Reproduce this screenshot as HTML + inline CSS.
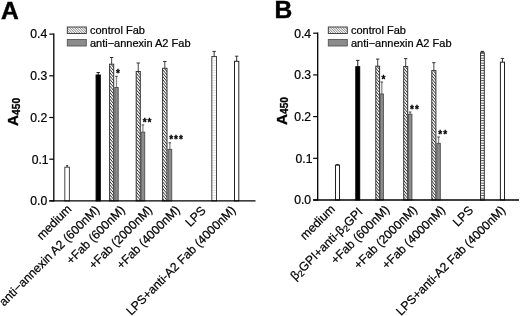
<!DOCTYPE html>
<html><head><meta charset="utf-8"><title>Figure</title>
<style>
html,body{margin:0;padding:0;background:#fff;}
svg{display:block;font-family:"Liberation Sans",sans-serif;fill:#000;}
.t{stroke:#000;stroke-width:0.22px;}
</style></head><body>
<svg width="520" height="316" viewBox="0 0 520 316">
<defs>
<pattern id="hl" x="0" y="0.2" width="6" height="2.5" patternUnits="userSpaceOnUse">
<rect width="6" height="2.5" fill="#fff"/><rect width="6" height="0.9" fill="#444"/>
</pattern>
<pattern id="hf" width="6" height="2.5" patternUnits="userSpaceOnUse">
<rect width="6" height="2.5" fill="#fff"/><rect width="6" height="0.8" fill="#ddd"/>
</pattern>
</defs>
<rect width="520" height="316" fill="#fff"/>
<text x="0.9" y="18.5" font-size="24.6" font-weight="bold" stroke="#000" stroke-width="0.45">A</text>
<text transform="translate(18.4,126.0) rotate(-90)" font-size="15.3" font-weight="bold" stroke="#000" stroke-width="0.3">A<tspan font-size="10.2" dy="1.4">450</tspan></text>
<line x1="49.3" y1="200.90" x2="53.8" y2="200.90" stroke="#000" stroke-width="1.2"/>
<text x="47.199999999999996" y="205.20" font-size="12.2" text-anchor="end" class="t">0.0</text>
<line x1="49.3" y1="159.20" x2="53.8" y2="159.20" stroke="#000" stroke-width="1.2"/>
<text x="48.599999999999994" y="163.50" font-size="12.2" text-anchor="end" class="t">0.1</text>
<line x1="49.3" y1="117.50" x2="53.8" y2="117.50" stroke="#000" stroke-width="1.2"/>
<text x="47.199999999999996" y="121.80" font-size="12.2" text-anchor="end" class="t">0.2</text>
<line x1="49.3" y1="75.80" x2="53.8" y2="75.80" stroke="#000" stroke-width="1.2"/>
<text x="47.199999999999996" y="80.10" font-size="12.2" text-anchor="end" class="t">0.3</text>
<line x1="49.3" y1="34.10" x2="53.8" y2="34.10" stroke="#000" stroke-width="1.2"/>
<text x="47.199999999999996" y="38.40" font-size="12.2" text-anchor="end" class="t">0.4</text>
<clipPath id="c1"><rect x="67.30" y="27.00" width="19.00" height="6.50"/></clipPath><rect x="67.30" y="27.00" width="19.00" height="6.50" fill="#fff"/><path d="M66.30 4.50L87.30 25.50M66.30 7.00L87.30 28.00M66.30 9.50L87.30 30.50M66.30 12.00L87.30 33.00M66.30 14.50L87.30 35.50M66.30 17.00L87.30 38.00M66.30 19.50L87.30 40.50M66.30 22.00L87.30 43.00M66.30 24.50L87.30 45.50M66.30 27.00L87.30 48.00M66.30 29.50L87.30 50.50M66.30 32.00L87.30 53.00M66.30 34.50L87.30 55.50" stroke="#444" stroke-width="0.7" fill="none" clip-path="url(#c1)"/><rect x="67.30" y="27.00" width="19.00" height="6.50" fill="none" stroke="#333" stroke-width="0.9"/>
<rect x="67.3" y="39.5" width="19" height="6.5" fill="#8c8c8c" stroke="#555" stroke-width="0.9"/>
<text x="89.9" y="33.7" font-size="11" class="t">control Fab</text>
<text x="89.9" y="46.7" font-size="11" class="t">anti−annexin A2 Fab</text>
<line x1="67.10" y1="167.2" x2="67.10" y2="165.7" stroke="#333" stroke-width="1"/>
<line x1="66.10" y1="165.7" x2="68.10" y2="165.7" stroke="#222" stroke-width="1"/>
<rect x="64.80" y="167.2" width="4.60" height="33.70" fill="#fff" stroke="#484848" stroke-width="1"/>
<line x1="98.20" y1="75" x2="98.20" y2="72.5" stroke="#222" stroke-width="1"/>
<line x1="96.50" y1="72.5" x2="99.90" y2="72.5" stroke="#222" stroke-width="1"/>
<rect x="96.10" y="75" width="4.20" height="125.90" fill="#000" stroke="#000" stroke-width="1"/>
<line x1="111.65" y1="64.2" x2="111.65" y2="57.5" stroke="#444" stroke-width="1"/>
<line x1="109.95" y1="57.5" x2="113.35" y2="57.5" stroke="#333" stroke-width="1"/>
<clipPath id="c2"><rect x="109.60" y="64.20" width="4.10" height="136.70"/></clipPath><rect x="109.60" y="64.20" width="4.10" height="136.70" fill="#fff"/><path d="M108.60 54.78L114.70 62.10M108.60 58.08L114.70 65.40M108.60 61.38L114.70 68.70M108.60 64.68L114.70 72.00M108.60 67.98L114.70 75.30M108.60 71.28L114.70 78.60M108.60 74.58L114.70 81.90M108.60 77.88L114.70 85.20M108.60 81.18L114.70 88.50M108.60 84.48L114.70 91.80M108.60 87.78L114.70 95.10M108.60 91.08L114.70 98.40M108.60 94.38L114.70 101.70M108.60 97.68L114.70 105.00M108.60 100.98L114.70 108.30M108.60 104.28L114.70 111.60M108.60 107.58L114.70 114.90M108.60 110.88L114.70 118.20M108.60 114.18L114.70 121.50M108.60 117.48L114.70 124.80M108.60 120.78L114.70 128.10M108.60 124.08L114.70 131.40M108.60 127.38L114.70 134.70M108.60 130.68L114.70 138.00M108.60 133.98L114.70 141.30M108.60 137.28L114.70 144.60M108.60 140.58L114.70 147.90M108.60 143.88L114.70 151.20M108.60 147.18L114.70 154.50M108.60 150.48L114.70 157.80M108.60 153.78L114.70 161.10M108.60 157.08L114.70 164.40M108.60 160.38L114.70 167.70M108.60 163.68L114.70 171.00M108.60 166.98L114.70 174.30M108.60 170.28L114.70 177.60M108.60 173.58L114.70 180.90M108.60 176.88L114.70 184.20M108.60 180.18L114.70 187.50M108.60 183.48L114.70 190.80M108.60 186.78L114.70 194.10M108.60 190.08L114.70 197.40M108.60 193.38L114.70 200.70M108.60 196.68L114.70 204.00M108.60 199.98L114.70 207.30" stroke="#222" stroke-width="0.95" fill="none" clip-path="url(#c2)"/><rect x="109.60" y="64.20" width="4.10" height="136.70" fill="none" stroke="#333" stroke-width="1"/>
<line x1="116.50" y1="87.5" x2="116.50" y2="76.3" stroke="#888" stroke-width="1.3"/>
<line x1="115.20" y1="76.3" x2="117.80" y2="76.3" stroke="#444" stroke-width="1"/>
<rect x="114.80" y="87.5" width="3.40" height="113.40" fill="#8c8c8c" stroke="#555" stroke-width="1"/>
<line x1="138.25" y1="71.5" x2="138.25" y2="63" stroke="#444" stroke-width="1"/>
<line x1="136.55" y1="63" x2="139.95" y2="63" stroke="#333" stroke-width="1"/>
<clipPath id="c3"><rect x="136.20" y="71.50" width="4.10" height="129.40"/></clipPath><rect x="136.20" y="71.50" width="4.10" height="129.40" fill="#fff"/><path d="M135.20 62.08L141.30 69.40M135.20 65.38L141.30 72.70M135.20 68.68L141.30 76.00M135.20 71.98L141.30 79.30M135.20 75.28L141.30 82.60M135.20 78.58L141.30 85.90M135.20 81.88L141.30 89.20M135.20 85.18L141.30 92.50M135.20 88.48L141.30 95.80M135.20 91.78L141.30 99.10M135.20 95.08L141.30 102.40M135.20 98.38L141.30 105.70M135.20 101.68L141.30 109.00M135.20 104.98L141.30 112.30M135.20 108.28L141.30 115.60M135.20 111.58L141.30 118.90M135.20 114.88L141.30 122.20M135.20 118.18L141.30 125.50M135.20 121.48L141.30 128.80M135.20 124.78L141.30 132.10M135.20 128.08L141.30 135.40M135.20 131.38L141.30 138.70M135.20 134.68L141.30 142.00M135.20 137.98L141.30 145.30M135.20 141.28L141.30 148.60M135.20 144.58L141.30 151.90M135.20 147.88L141.30 155.20M135.20 151.18L141.30 158.50M135.20 154.48L141.30 161.80M135.20 157.78L141.30 165.10M135.20 161.08L141.30 168.40M135.20 164.38L141.30 171.70M135.20 167.68L141.30 175.00M135.20 170.98L141.30 178.30M135.20 174.28L141.30 181.60M135.20 177.58L141.30 184.90M135.20 180.88L141.30 188.20M135.20 184.18L141.30 191.50M135.20 187.48L141.30 194.80M135.20 190.78L141.30 198.10M135.20 194.08L141.30 201.40M135.20 197.38L141.30 204.70M135.20 200.68L141.30 208.00" stroke="#222" stroke-width="0.95" fill="none" clip-path="url(#c3)"/><rect x="136.20" y="71.50" width="4.10" height="129.40" fill="none" stroke="#333" stroke-width="1"/>
<line x1="142.90" y1="132.2" x2="142.90" y2="124.9" stroke="#888" stroke-width="1.3"/>
<line x1="141.60" y1="124.9" x2="144.20" y2="124.9" stroke="#444" stroke-width="1"/>
<rect x="141.10" y="132.2" width="3.60" height="68.70" fill="#8c8c8c" stroke="#555" stroke-width="1"/>
<line x1="164.80" y1="68.3" x2="164.80" y2="61.5" stroke="#444" stroke-width="1"/>
<line x1="163.10" y1="61.5" x2="166.50" y2="61.5" stroke="#333" stroke-width="1"/>
<clipPath id="c4"><rect x="162.60" y="68.30" width="4.40" height="132.60"/></clipPath><rect x="162.60" y="68.30" width="4.40" height="132.60" fill="#fff"/><path d="M161.60 58.52L168.00 66.20M161.60 61.82L168.00 69.50M161.60 65.12L168.00 72.80M161.60 68.42L168.00 76.10M161.60 71.72L168.00 79.40M161.60 75.02L168.00 82.70M161.60 78.32L168.00 86.00M161.60 81.62L168.00 89.30M161.60 84.92L168.00 92.60M161.60 88.22L168.00 95.90M161.60 91.52L168.00 99.20M161.60 94.82L168.00 102.50M161.60 98.12L168.00 105.80M161.60 101.42L168.00 109.10M161.60 104.72L168.00 112.40M161.60 108.02L168.00 115.70M161.60 111.32L168.00 119.00M161.60 114.62L168.00 122.30M161.60 117.92L168.00 125.60M161.60 121.22L168.00 128.90M161.60 124.52L168.00 132.20M161.60 127.82L168.00 135.50M161.60 131.12L168.00 138.80M161.60 134.42L168.00 142.10M161.60 137.72L168.00 145.40M161.60 141.02L168.00 148.70M161.60 144.32L168.00 152.00M161.60 147.62L168.00 155.30M161.60 150.92L168.00 158.60M161.60 154.22L168.00 161.90M161.60 157.52L168.00 165.20M161.60 160.82L168.00 168.50M161.60 164.12L168.00 171.80M161.60 167.42L168.00 175.10M161.60 170.72L168.00 178.40M161.60 174.02L168.00 181.70M161.60 177.32L168.00 185.00M161.60 180.62L168.00 188.30M161.60 183.92L168.00 191.60M161.60 187.22L168.00 194.90M161.60 190.52L168.00 198.20M161.60 193.82L168.00 201.50M161.60 197.12L168.00 204.80M161.60 200.42L168.00 208.10" stroke="#222" stroke-width="0.95" fill="none" clip-path="url(#c4)"/><rect x="162.60" y="68.30" width="4.40" height="132.60" fill="none" stroke="#333" stroke-width="1"/>
<line x1="169.85" y1="149.4" x2="169.85" y2="142.8" stroke="#888" stroke-width="1.3"/>
<line x1="168.55" y1="142.8" x2="171.15" y2="142.8" stroke="#444" stroke-width="1"/>
<rect x="168.00" y="149.4" width="3.70" height="51.50" fill="#8c8c8c" stroke="#555" stroke-width="1"/>
<line x1="214.15" y1="56.5" x2="214.15" y2="51.4" stroke="#333" stroke-width="1"/>
<line x1="212.45" y1="51.4" x2="215.85" y2="51.4" stroke="#333" stroke-width="1"/>
<rect x="211.80" y="56.5" width="4.70" height="144.40" fill="url(#hf)" stroke="#444" stroke-width="1"/>
<line x1="236.65" y1="61.3" x2="236.65" y2="56.2" stroke="#333" stroke-width="1"/>
<line x1="234.95" y1="56.2" x2="238.35" y2="56.2" stroke="#333" stroke-width="1"/>
<rect x="234.50" y="61.3" width="4.30" height="139.60" fill="#fff" stroke="#222" stroke-width="1"/>
<line x1="53.8" y1="33.5" x2="53.8" y2="201.5" stroke="#000" stroke-width="1.3"/>
<line x1="49.3" y1="200.9" x2="255.5" y2="200.9" stroke="#000" stroke-width="1.3"/>
<text x="116.1" y="76.7" font-size="10" font-weight="bold" letter-spacing="1.0" stroke="#000" stroke-width="0.3">*</text>
<text x="142.7" y="125.6" font-size="10" font-weight="bold" letter-spacing="1.0" stroke="#000" stroke-width="0.3">**</text>
<text x="169.2" y="143.3" font-size="10" font-weight="bold" letter-spacing="1.0" stroke="#000" stroke-width="0.3">***</text>
<text transform="translate(72.3,209.8) rotate(-45)" font-size="12.2" text-anchor="end" class="t">medium</text>
<text transform="translate(100.1,210.7) rotate(-45)" font-size="12.2" text-anchor="end" class="t">anti−annexin A2 (600nM)</text>
<text transform="translate(125.5,210.7) rotate(-45)" font-size="12.2" text-anchor="end" class="t">+Fab (600nM)</text>
<text transform="translate(153.0,210.7) rotate(-45)" font-size="12.2" text-anchor="end" class="t">+Fab (2000nM)</text>
<text transform="translate(180.6,210.7) rotate(-45)" font-size="12.2" text-anchor="end" class="t">+Fab (4000nM)</text>
<text transform="translate(206.6,211.3) rotate(-45)" font-size="12.2" text-anchor="end" class="t">LPS</text>
<text transform="translate(236.3,210.9) rotate(-45)" font-size="12.2" text-anchor="end" class="t">LPS+anti-A2 Fab (4000nM)</text>
<text x="274.6" y="18.3" font-size="24.6" font-weight="bold" stroke="#000" stroke-width="0.45">B</text>
<text transform="translate(286.7,125.1) rotate(-90)" font-size="15.3" font-weight="bold" stroke="#000" stroke-width="0.3">A<tspan font-size="10.2" dy="1.4">450</tspan></text>
<line x1="313.2" y1="200.00" x2="317.7" y2="200.00" stroke="#000" stroke-width="1.2"/>
<text x="311.09999999999997" y="204.30" font-size="12.2" text-anchor="end" class="t">0.0</text>
<line x1="313.2" y1="158.30" x2="317.7" y2="158.30" stroke="#000" stroke-width="1.2"/>
<text x="312.49999999999994" y="162.60" font-size="12.2" text-anchor="end" class="t">0.1</text>
<line x1="313.2" y1="116.60" x2="317.7" y2="116.60" stroke="#000" stroke-width="1.2"/>
<text x="311.09999999999997" y="120.90" font-size="12.2" text-anchor="end" class="t">0.2</text>
<line x1="313.2" y1="74.90" x2="317.7" y2="74.90" stroke="#000" stroke-width="1.2"/>
<text x="311.09999999999997" y="79.20" font-size="12.2" text-anchor="end" class="t">0.3</text>
<line x1="313.2" y1="33.20" x2="317.7" y2="33.20" stroke="#000" stroke-width="1.2"/>
<text x="311.09999999999997" y="37.50" font-size="12.2" text-anchor="end" class="t">0.4</text>
<clipPath id="c5"><rect x="328.30" y="27.00" width="19.00" height="6.50"/></clipPath><rect x="328.30" y="27.00" width="19.00" height="6.50" fill="#fff"/><path d="M327.30 4.50L348.30 25.50M327.30 7.00L348.30 28.00M327.30 9.50L348.30 30.50M327.30 12.00L348.30 33.00M327.30 14.50L348.30 35.50M327.30 17.00L348.30 38.00M327.30 19.50L348.30 40.50M327.30 22.00L348.30 43.00M327.30 24.50L348.30 45.50M327.30 27.00L348.30 48.00M327.30 29.50L348.30 50.50M327.30 32.00L348.30 53.00M327.30 34.50L348.30 55.50" stroke="#444" stroke-width="0.7" fill="none" clip-path="url(#c5)"/><rect x="328.30" y="27.00" width="19.00" height="6.50" fill="none" stroke="#333" stroke-width="0.9"/>
<rect x="328.3" y="39.5" width="19" height="6.5" fill="#8c8c8c" stroke="#555" stroke-width="0.9"/>
<text x="350.90000000000003" y="33.7" font-size="11" class="t">control Fab</text>
<text x="350.90000000000003" y="46.7" font-size="11" class="t">anti−annexin A2 Fab</text>
<line x1="337.50" y1="165.2" x2="337.50" y2="164.6" stroke="#333" stroke-width="1"/>
<line x1="335.80" y1="164.6" x2="339.20" y2="164.6" stroke="#333" stroke-width="1"/>
<rect x="335.50" y="165.2" width="4.00" height="34.80" fill="#fff" stroke="#222" stroke-width="1"/>
<line x1="357.75" y1="66.7" x2="357.75" y2="60.4" stroke="#222" stroke-width="1"/>
<line x1="356.05" y1="60.4" x2="359.45" y2="60.4" stroke="#222" stroke-width="1"/>
<rect x="355.80" y="66.7" width="3.90" height="133.30" fill="#000" stroke="#000" stroke-width="1"/>
<line x1="377.70" y1="66.2" x2="377.70" y2="59.1" stroke="#444" stroke-width="1"/>
<line x1="376.00" y1="59.1" x2="379.40" y2="59.1" stroke="#333" stroke-width="1"/>
<clipPath id="c6"><rect x="375.80" y="66.20" width="3.80" height="133.80"/></clipPath><rect x="375.80" y="66.20" width="3.80" height="133.80" fill="#fff"/><path d="M374.80 57.14L380.60 64.10M374.80 60.44L380.60 67.40M374.80 63.74L380.60 70.70M374.80 67.04L380.60 74.00M374.80 70.34L380.60 77.30M374.80 73.64L380.60 80.60M374.80 76.94L380.60 83.90M374.80 80.24L380.60 87.20M374.80 83.54L380.60 90.50M374.80 86.84L380.60 93.80M374.80 90.14L380.60 97.10M374.80 93.44L380.60 100.40M374.80 96.74L380.60 103.70M374.80 100.04L380.60 107.00M374.80 103.34L380.60 110.30M374.80 106.64L380.60 113.60M374.80 109.94L380.60 116.90M374.80 113.24L380.60 120.20M374.80 116.54L380.60 123.50M374.80 119.84L380.60 126.80M374.80 123.14L380.60 130.10M374.80 126.44L380.60 133.40M374.80 129.74L380.60 136.70M374.80 133.04L380.60 140.00M374.80 136.34L380.60 143.30M374.80 139.64L380.60 146.60M374.80 142.94L380.60 149.90M374.80 146.24L380.60 153.20M374.80 149.54L380.60 156.50M374.80 152.84L380.60 159.80M374.80 156.14L380.60 163.10M374.80 159.44L380.60 166.40M374.80 162.74L380.60 169.70M374.80 166.04L380.60 173.00M374.80 169.34L380.60 176.30M374.80 172.64L380.60 179.60M374.80 175.94L380.60 182.90M374.80 179.24L380.60 186.20M374.80 182.54L380.60 189.50M374.80 185.84L380.60 192.80M374.80 189.14L380.60 196.10M374.80 192.44L380.60 199.40M374.80 195.74L380.60 202.70M374.80 199.04L380.60 206.00" stroke="#222" stroke-width="0.95" fill="none" clip-path="url(#c6)"/><rect x="375.80" y="66.20" width="3.80" height="133.80" fill="none" stroke="#333" stroke-width="1"/>
<line x1="381.80" y1="94" x2="381.80" y2="82" stroke="#888" stroke-width="1.3"/>
<line x1="380.50" y1="82" x2="383.10" y2="82" stroke="#444" stroke-width="1"/>
<rect x="380.20" y="94" width="3.20" height="106.00" fill="#8c8c8c" stroke="#555" stroke-width="1"/>
<line x1="405.70" y1="66.5" x2="405.70" y2="58.6" stroke="#444" stroke-width="1"/>
<line x1="404.00" y1="58.6" x2="407.40" y2="58.6" stroke="#333" stroke-width="1"/>
<clipPath id="c7"><rect x="403.70" y="66.50" width="4.00" height="133.50"/></clipPath><rect x="403.70" y="66.50" width="4.00" height="133.50" fill="#fff"/><path d="M402.70 57.20L408.70 64.40M402.70 60.50L408.70 67.70M402.70 63.80L408.70 71.00M402.70 67.10L408.70 74.30M402.70 70.40L408.70 77.60M402.70 73.70L408.70 80.90M402.70 77.00L408.70 84.20M402.70 80.30L408.70 87.50M402.70 83.60L408.70 90.80M402.70 86.90L408.70 94.10M402.70 90.20L408.70 97.40M402.70 93.50L408.70 100.70M402.70 96.80L408.70 104.00M402.70 100.10L408.70 107.30M402.70 103.40L408.70 110.60M402.70 106.70L408.70 113.90M402.70 110.00L408.70 117.20M402.70 113.30L408.70 120.50M402.70 116.60L408.70 123.80M402.70 119.90L408.70 127.10M402.70 123.20L408.70 130.40M402.70 126.50L408.70 133.70M402.70 129.80L408.70 137.00M402.70 133.10L408.70 140.30M402.70 136.40L408.70 143.60M402.70 139.70L408.70 146.90M402.70 143.00L408.70 150.20M402.70 146.30L408.70 153.50M402.70 149.60L408.70 156.80M402.70 152.90L408.70 160.10M402.70 156.20L408.70 163.40M402.70 159.50L408.70 166.70M402.70 162.80L408.70 170.00M402.70 166.10L408.70 173.30M402.70 169.40L408.70 176.60M402.70 172.70L408.70 179.90M402.70 176.00L408.70 183.20M402.70 179.30L408.70 186.50M402.70 182.60L408.70 189.80M402.70 185.90L408.70 193.10M402.70 189.20L408.70 196.40M402.70 192.50L408.70 199.70M402.70 195.80L408.70 203.00M402.70 199.10L408.70 206.30" stroke="#222" stroke-width="0.95" fill="none" clip-path="url(#c7)"/><rect x="403.70" y="66.50" width="4.00" height="133.50" fill="none" stroke="#333" stroke-width="1"/>
<line x1="410.15" y1="114.3" x2="410.15" y2="112" stroke="#888" stroke-width="1.3"/>
<line x1="408.85" y1="112" x2="411.45" y2="112" stroke="#444" stroke-width="1"/>
<rect x="408.40" y="114.3" width="3.50" height="85.70" fill="#8c8c8c" stroke="#555" stroke-width="1"/>
<line x1="433.85" y1="70.6" x2="433.85" y2="62.7" stroke="#444" stroke-width="1"/>
<line x1="432.15" y1="62.7" x2="435.55" y2="62.7" stroke="#333" stroke-width="1"/>
<clipPath id="c8"><rect x="431.80" y="70.60" width="4.10" height="129.40"/></clipPath><rect x="431.80" y="70.60" width="4.10" height="129.40" fill="#fff"/><path d="M430.80 61.18L436.90 68.50M430.80 64.48L436.90 71.80M430.80 67.78L436.90 75.10M430.80 71.08L436.90 78.40M430.80 74.38L436.90 81.70M430.80 77.68L436.90 85.00M430.80 80.98L436.90 88.30M430.80 84.28L436.90 91.60M430.80 87.58L436.90 94.90M430.80 90.88L436.90 98.20M430.80 94.18L436.90 101.50M430.80 97.48L436.90 104.80M430.80 100.78L436.90 108.10M430.80 104.08L436.90 111.40M430.80 107.38L436.90 114.70M430.80 110.68L436.90 118.00M430.80 113.98L436.90 121.30M430.80 117.28L436.90 124.60M430.80 120.58L436.90 127.90M430.80 123.88L436.90 131.20M430.80 127.18L436.90 134.50M430.80 130.48L436.90 137.80M430.80 133.78L436.90 141.10M430.80 137.08L436.90 144.40M430.80 140.38L436.90 147.70M430.80 143.68L436.90 151.00M430.80 146.98L436.90 154.30M430.80 150.28L436.90 157.60M430.80 153.58L436.90 160.90M430.80 156.88L436.90 164.20M430.80 160.18L436.90 167.50M430.80 163.48L436.90 170.80M430.80 166.78L436.90 174.10M430.80 170.08L436.90 177.40M430.80 173.38L436.90 180.70M430.80 176.68L436.90 184.00M430.80 179.98L436.90 187.30M430.80 183.28L436.90 190.60M430.80 186.58L436.90 193.90M430.80 189.88L436.90 197.20M430.80 193.18L436.90 200.50M430.80 196.48L436.90 203.80M430.80 199.78L436.90 207.10" stroke="#222" stroke-width="0.95" fill="none" clip-path="url(#c8)"/><rect x="431.80" y="70.60" width="4.10" height="129.40" fill="none" stroke="#333" stroke-width="1"/>
<line x1="438.55" y1="143.4" x2="438.55" y2="137" stroke="#888" stroke-width="1.3"/>
<line x1="437.25" y1="137" x2="439.85" y2="137" stroke="#444" stroke-width="1"/>
<rect x="436.80" y="143.4" width="3.50" height="56.60" fill="#8c8c8c" stroke="#555" stroke-width="1"/>
<line x1="482.40" y1="52.7" x2="482.40" y2="51.4" stroke="#222" stroke-width="1"/>
<line x1="480.70" y1="51.4" x2="484.10" y2="51.4" stroke="#222" stroke-width="1"/>
<rect x="480.50" y="52.7" width="3.80" height="147.30" fill="url(#hl)" stroke="#333" stroke-width="1"/>
<line x1="502.45" y1="62.2" x2="502.45" y2="58.4" stroke="#333" stroke-width="1"/>
<line x1="500.75" y1="58.4" x2="504.15" y2="58.4" stroke="#333" stroke-width="1"/>
<rect x="500.40" y="62.2" width="4.10" height="137.80" fill="#fff" stroke="#222" stroke-width="1"/>
<line x1="317.7" y1="32.6" x2="317.7" y2="200.6" stroke="#000" stroke-width="1.3"/>
<line x1="313.2" y1="200.0" x2="519" y2="200.0" stroke="#000" stroke-width="1.3"/>
<text x="381.5" y="82.6" font-size="10" font-weight="bold" letter-spacing="1.0" stroke="#000" stroke-width="0.3">*</text>
<text x="410.0" y="112.8" font-size="10" font-weight="bold" letter-spacing="1.0" stroke="#000" stroke-width="0.3">**</text>
<text x="438.3" y="137.5" font-size="10" font-weight="bold" letter-spacing="1.0" stroke="#000" stroke-width="0.3">**</text>
<text transform="translate(335.7,209.8) rotate(-45)" font-size="12.2" text-anchor="end" class="t">medium</text>
<text transform="translate(363.5,212.6) rotate(-45)" font-size="12.2" text-anchor="end" class="t">β<tspan font-size="8.7" dy="2">2</tspan><tspan dy="-2">GPI+anti-β</tspan><tspan font-size="8.7" dy="2">2</tspan><tspan dy="-2">GPI</tspan></text>
<text transform="translate(390.0,210.5) rotate(-45)" font-size="12.2" text-anchor="end" class="t">+Fab (600nM)</text>
<text transform="translate(417.8,210.5) rotate(-45)" font-size="12.2" text-anchor="end" class="t">+Fab (2000nM)</text>
<text transform="translate(446.0,210.6) rotate(-45)" font-size="12.2" text-anchor="end" class="t">+Fab (4000nM)</text>
<text transform="translate(474.1,211) rotate(-45)" font-size="12.2" text-anchor="end" class="t">LPS</text>
<text transform="translate(506.1,211) rotate(-45)" font-size="12.2" text-anchor="end" class="t">LPS+anti-A2 Fab (4000nM)</text>
</svg>
</body></html>
